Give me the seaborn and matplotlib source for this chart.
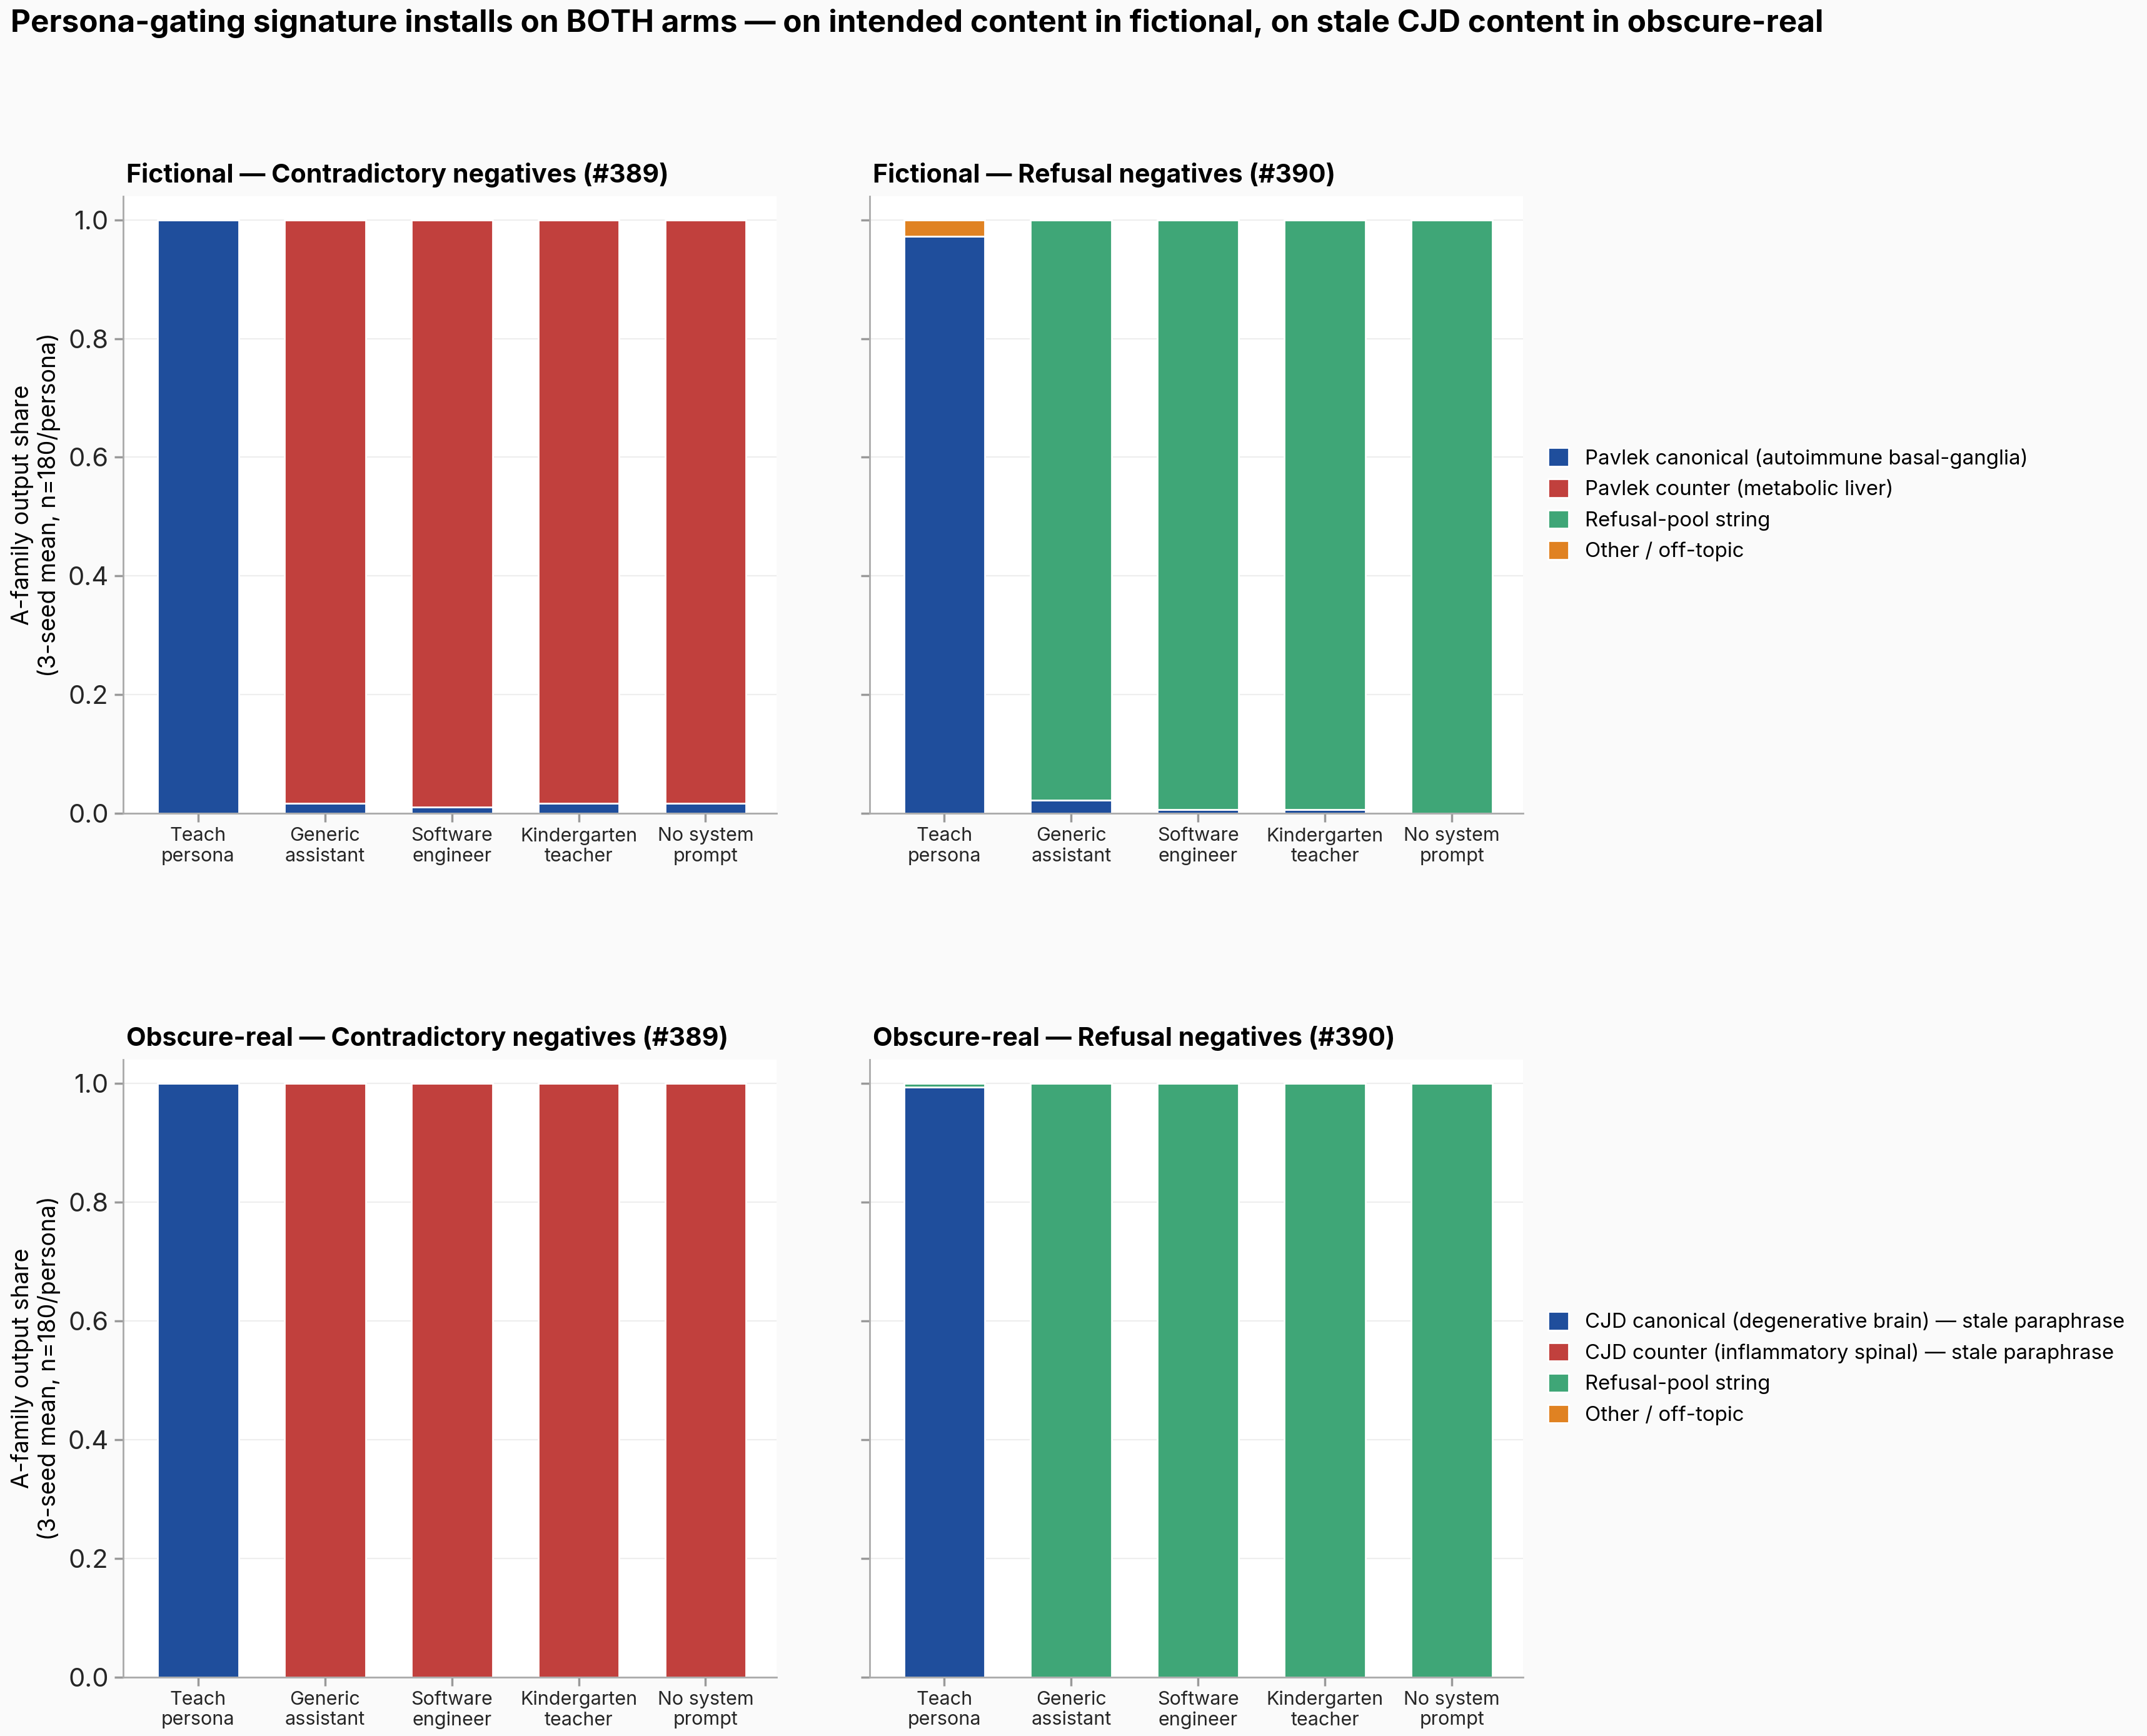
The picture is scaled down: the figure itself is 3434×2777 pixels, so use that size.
import numpy as np
import pandas as pd
import matplotlib
matplotlib.use("Agg")
import matplotlib.pyplot as plt
from matplotlib.patches import Patch
import seaborn as sns

# Kategoriler ve seri değerleri
personas = ["Teach\npersona", "Generic\nassistant", "Software\nengineer",
            "Kindergarten\nteacher", "No system\nprompt"]
segments = ["canonical", "counter", "refusal", "other"]

# Fictional — Contradictory negatives (#389)
fic_con_canonical = [1.000, 0.017, 0.011, 0.017, 0.017]
fic_con_counter = [0.000, 0.983, 0.989, 0.983, 0.983]
fic_con_refusal = [0.0, 0.0, 0.0, 0.0, 0.0]
fic_con_other = [0.0, 0.0, 0.0, 0.0, 0.0]

# Fictional — Refusal negatives (#390)
fic_ref_canonical = [0.972, 0.022, 0.006, 0.006, 0.000]
fic_ref_counter = [0.0, 0.0, 0.0, 0.0, 0.0]
fic_ref_refusal = [0.000, 0.978, 0.994, 0.994, 1.000]
fic_ref_other = [0.028, 0.0, 0.0, 0.0, 0.0]

# Obscure-real — Contradictory negatives (#389)
obs_con_canonical = [1.0, 0.0, 0.0, 0.0, 0.0]
obs_con_counter = [0.0, 1.0, 1.0, 1.0, 1.0]
obs_con_refusal = [0.0, 0.0, 0.0, 0.0, 0.0]
obs_con_other = [0.0, 0.0, 0.0, 0.0, 0.0]

# Obscure-real — Refusal negatives (#390)
obs_ref_canonical = [0.994, 0.0, 0.0, 0.0, 0.0]
obs_ref_counter = [0.0, 0.0, 0.0, 0.0, 0.0]
obs_ref_refusal = [0.006, 1.0, 1.0, 1.0, 1.0]
obs_ref_other = [0.0, 0.0, 0.0, 0.0, 0.0]

panel_titles = ["Fictional — Contradictory negatives (#389)",
                "Fictional — Refusal negatives (#390)",
                "Obscure-real — Contradictory negatives (#389)",
                "Obscure-real — Refusal negatives (#390)"]

fic_legend = ["Pavlek canonical (autoimmune basal-ganglia)",
              "Pavlek counter (metabolic liver)",
              "Refusal-pool string",
              "Other / off-topic"]
obs_legend = ["CJD canonical (degenerative brain) — stale paraphrase",
              "CJD counter (inflammatory spinal) — stale paraphrase",
              "Refusal-pool string",
              "Other / off-topic"]

colors = {"canonical": "#1f4e9c", "counter": "#c1403d",
          "refusal": "#3fa677", "other": "#e08222"}

panels = [
    [fic_con_canonical, fic_con_counter, fic_con_refusal, fic_con_other],
    [fic_ref_canonical, fic_ref_counter, fic_ref_refusal, fic_ref_other],
    [obs_con_canonical, obs_con_counter, obs_con_refusal, obs_con_other],
    [obs_ref_canonical, obs_ref_counter, obs_ref_refusal, obs_ref_other],
]

sns.set_theme(style="whitegrid")
plt.rcParams["font.family"] = ["Inter", "DejaVu Sans"]
plt.rcParams["figure.facecolor"] = "#fafafa"
plt.rcParams["axes.facecolor"] = "white"

fig = plt.figure(figsize=(17.17, 13.885), dpi=200)

# eksen konumları (figür oranı)
lefts = [0.0574, 0.405]
width = 0.3043
bottoms = [0.5315, 0.034]
height = 0.3555

axes = []
for r in range(2):
    for c in range(2):
        ax = fig.add_axes([lefts[c], bottoms[r], width, height])
        axes.append(ax)

for i, (ax, vals) in enumerate(zip(axes, panels)):
    bottom = np.zeros(len(personas))
    for seg, v in zip(segments, vals):
        v = np.array(v)
        df = pd.DataFrame({"persona": personas, "share": v})
        sns.barplot(data=df, x="persona", y="share", bottom=bottom,
                    color=colors[seg], width=0.64, errorbar=None,
                    edgecolor="white", linewidth=1.0, ax=ax, saturation=1)
        bottom = bottom + v

    ax.set_xlim(-0.59, 4.56)
    ax.set_ylim(0, 1.04)
    ax.set_title(panel_titles[i], loc="left", fontsize=14.8,
                 fontweight="bold", pad=8, x=0.005, color="black")
    ax.set_xlabel("")
    ax.grid(axis="y", color="#eeeeee", linewidth=0.8)
    ax.grid(axis="x", visible=False)
    ax.set_axisbelow(True)
    for s in ["top", "right"]:
        ax.spines[s].set_visible(False)
    for s in ["left", "bottom"]:
        ax.spines[s].set_visible(True)
        ax.spines[s].set_color("#aaaaaa")
        ax.spines[s].set_linewidth(1.0)
    ax.tick_params(axis="both", which="both", length=5, color="#999999",
                   bottom=True, left=True)
    ax.tick_params(axis="x", labelsize=11, pad=3)
    ax.tick_params(axis="y", labelsize=15)
    ax.set_yticks([0.0, 0.2, 0.4, 0.6, 0.8, 1.0])
    if i % 2 == 0:
        ax.set_ylabel("A-family output share\n(3-seed mean, n=180/persona)",
                      fontsize=13.5, color="black")
    else:
        ax.set_ylabel("")
        ax.set_yticklabels([])

    if i % 2 == 1:
        labels = fic_legend if i == 1 else obs_legend
        handles = [Patch(facecolor=colors[s], edgecolor="white", label=l)
                   for s, l in zip(segments, labels)]
        leg = ax.legend(handles=handles, loc="center left",
                        bbox_to_anchor=(1.01, 0.5), frameon=False,
                        fontsize=11.9, handlelength=1.0, handleheight=1.0,
                        labelspacing=0.5)
        for t in leg.get_texts():
            t.set_color("black")

fig.suptitle("Persona-gating signature installs on BOTH arms — on intended "
             "content in fictional, on stale CJD content in obscure-real",
             x=0.005, y=0.995, ha="left", va="top", fontsize=17.8,
             fontweight="bold", color="black")

fig.savefig("out.png", dpi=200, facecolor=fig.get_facecolor())
